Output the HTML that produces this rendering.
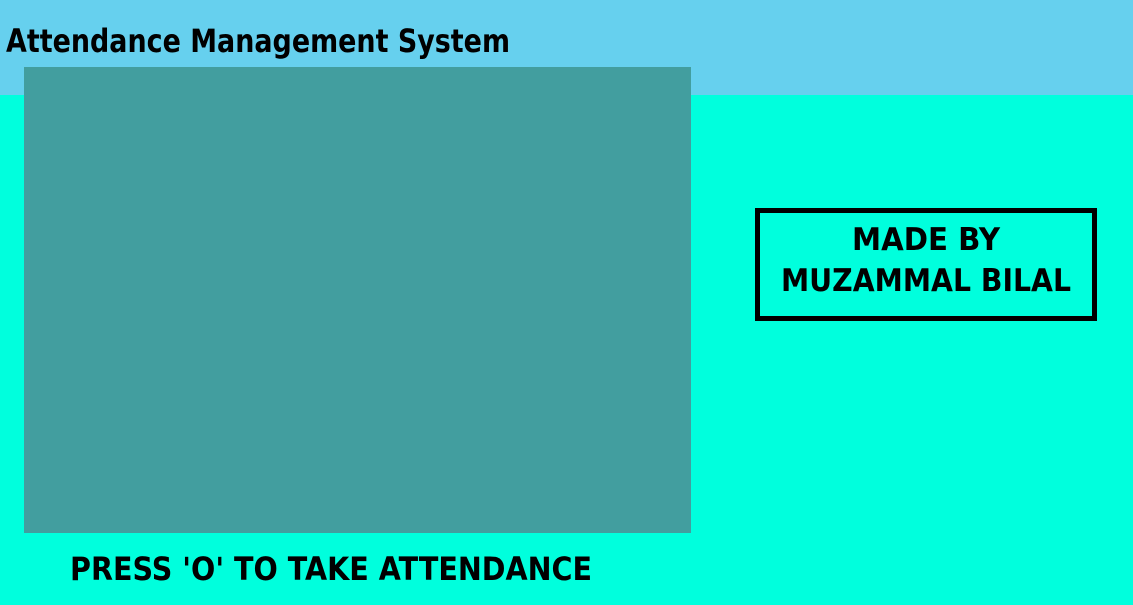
<!DOCTYPE html>
<html><head><meta charset="utf-8"><style>
html,body{margin:0;padding:0;width:1133px;height:605px;overflow:hidden;background:#00ffdd}
</style></head><body>
<svg width="1133" height="605" xmlns="http://www.w3.org/2000/svg" style="display:block">
<rect x="0" y="0" width="1133" height="605" fill="#00ffdd"/>
<rect x="0" y="0" width="1133" height="95" fill="#66d0ee"/>
<rect x="24" y="67" width="667" height="466" fill="#429e9f"/>
<text x="6" y="52" font-family="DejaVu Sans, Liberation Sans, sans-serif" font-weight="bold" font-size="32" textLength="504" lengthAdjust="spacingAndGlyphs" fill="#000">Attendance Management System</text>
<rect x="757.5" y="210.5" width="337" height="108" fill="none" stroke="#000" stroke-width="5"/>
<text x="926" y="250" text-anchor="middle" font-family="DejaVu Sans, Liberation Sans, sans-serif" font-weight="bold" font-size="31" textLength="148" lengthAdjust="spacingAndGlyphs" fill="#000">MADE  BY</text>
<text x="926" y="291" text-anchor="middle" font-family="DejaVu Sans, Liberation Sans, sans-serif" font-weight="bold" font-size="31" textLength="290" lengthAdjust="spacingAndGlyphs" fill="#000">MUZAMMAL BILAL</text>
<text x="70" y="580" font-family="DejaVu Sans, Liberation Sans, sans-serif" font-weight="bold" font-size="32" textLength="522" lengthAdjust="spacingAndGlyphs" fill="#000">PRESS 'O' TO TAKE ATTENDANCE</text>
</svg>
</body></html>
